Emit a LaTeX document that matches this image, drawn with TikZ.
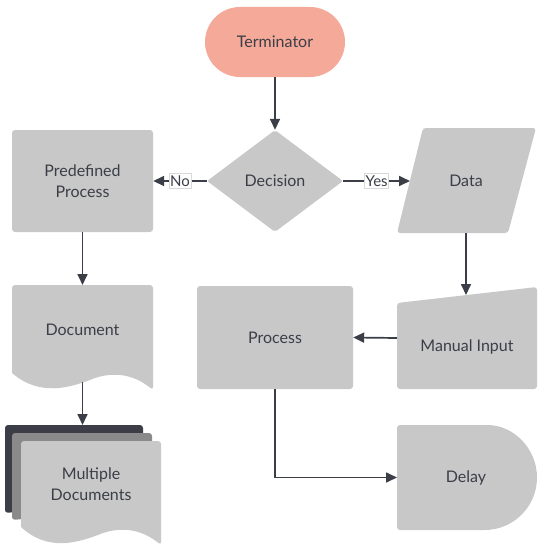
\documentclass[tikz,border=0pt]{standalone}
\usepackage{fontspec}
\setmainfont{Lato}
\usetikzlibrary{shapes.geometric,arrows.meta}
\definecolor{shapegray}{HTML}{C8C8C8}
\definecolor{ink}{HTML}{3B3E46}
\definecolor{salmon}{HTML}{F4A999}
\definecolor{midgray}{HTML}{8A8A8A}
\tikzset{
  txt/.style={font=\fontsize{16}{21}\selectfont, text=ink, align=center},
  boxshape/.style={txt, fill=shapegray, rounded corners=3pt, inner sep=0pt},
  arr/.style={draw=ink, line width=1.7pt, -{Triangle[length=11pt,width=10pt]}},
  lbl/.style={font=\fontsize{15}{18}\selectfont, text=ink, fill=white, draw=black!15, line width=0.4pt, inner xsep=1pt, inner ysep=2pt},
  flat/.style={fill=shapegray, rounded corners=3pt}
}
\begin{document}
\begin{tikzpicture}[x=1pt,y=-1pt]
\useasboundingbox (0,0) rectangle (546,551);
% Terminator
\node[txt, fill=salmon, rounded corners=35pt, minimum width=140pt, minimum height=70pt, inner sep=0pt] (term) at (275,42) {Terminator};
% Decision
\node[txt, diamond, fill=shapegray, aspect=1.333, minimum width=136pt, minimum height=102pt, inner sep=0pt, rounded corners=2pt] (dec) at (275,181) {Decision};
% Predefined process
\node[boxshape, minimum width=141pt, minimum height=102pt] (pre) at (82.5,181) {Predefined\\Process};
% Data (parallelogram)
\fill[flat] (423,128) -- (536,128) -- (508,233) -- (397,233) -- cycle;
\node[txt] (data) at (466,181) {Data};
\coordinate (dataW) at (410,181);
\coordinate (dataS) at (466,233);
% Manual input
\fill[flat] (397,303) -- (537,287) -- (537,389) -- (397,389) -- cycle;
\node[txt] (man) at (467,347) {Manual Input};
\coordinate (manN) at (466,295);
\coordinate (manW) at (397,338);
% Process
\node[boxshape, minimum width=156pt, minimum height=103pt] (proc) at (275,337.5) {Process};
% Delay
\fill[fill=shapegray, rounded corners=3pt] (397,425) -- (484.5,425) [sharp corners] arc[start angle=90, end angle=-90, radius=52.5pt] [rounded corners=3pt] -- (397,530) -- cycle;
\node[txt] (delay) at (466,477.5) {Delay};
\coordinate (delayW) at (397,477.5);
% Document
\fill[flat] (12,373) -- (12,285) -- (153,285) -- (153,390)
  [sharp corners] .. controls (138,378) and (120,370) .. (95,378)
  .. controls (70,388) and (40,397) .. (12,373) -- cycle;
\node[txt] (doc) at (82.5,330) {Document};
\coordinate (docN) at (82.5,285);
\coordinate (docS) at (82.5,382);
% Multiple documents
\fill[ink, rounded corners=3pt] (5,513) -- (5,425) -- (143,425) -- (143,500) -- cycle;
\fill[midgray, rounded corners=3pt] (12,520) -- (12,433) -- (152,433) -- (152,507) -- cycle;
\fill[flat] (21,527) -- (21,441) -- (161,441) -- (161,545)
  [sharp corners] .. controls (146,533) and (128,525) .. (103,533)
  .. controls (78,543) and (48,552) .. (21,527) -- cycle;
\node[txt] (multi) at (91,484) {Multiple\\Documents};
\coordinate (multiN) at (82.5,425);
% Connectors
\draw[arr] (term) -- (dec);
\draw[arr] (dec.west) -- node[lbl] {No} (pre.east);
\draw[arr] (dec.east) -- node[lbl] {Yes} (dataW);
\draw[arr] (pre.south) -- (docN);
\draw[arr] (dataS) -- (manN);
\draw[arr] (manW) -- (proc.east);
\draw[arr] (proc.south) |- (delayW);
\draw[arr] (docS) -- (multiN);
\end{tikzpicture}
\end{document}
